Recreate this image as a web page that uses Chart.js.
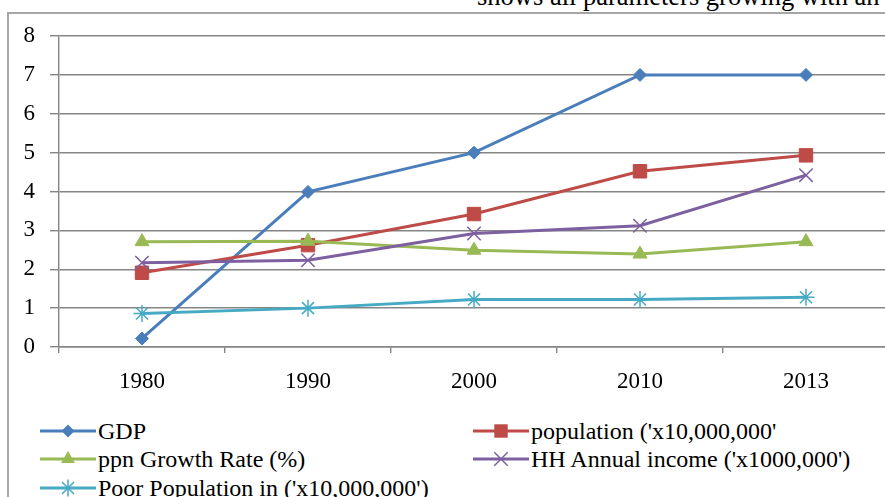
<!DOCTYPE html>
<html>
<head>
<meta charset="utf-8">
<script src="https://cdn.jsdelivr.net/npm/chart.js@4.4.1/dist/chart.umd.min.js"></script>
<style>
  html, body { margin: 0; padding: 0; width: 885px; height: 497px; overflow: hidden; background: #fff; }
  #caption { position: absolute; left: 477px; top: -16px; font: 26.5px/24px "Liberation Serif", "Times New Roman", serif; white-space: nowrap; color: #000; }
  #frame { position: absolute; left: 7px; top: 12px; width: 930px; height: 540px; border: 2px solid #a6a6a6; box-sizing: border-box; }
  #chart { position: absolute; left: 0; top: 0; }
  .item { position: absolute; height: 28px; display: flex; align-items: center; font: 24px/28px "Liberation Serif", "Times New Roman", serif; color: #000; white-space: nowrap; }
  .item canvas { margin-right: 2px; }
</style>
</head>
<body>
<div id="caption">shows all parameters growing with an</div>
<div id="frame"></div>
<canvas id="chart" width="900" height="400"></canvas>
<div id="legend"></div>
<script>
// Years on the category axis
const years = ['1980', '1990', '2000', '2010', '2013'];

// Series values
const gdp            = [0.22, 3.99, 5.00, 7.00, 7.00];
const population     = [1.91, 2.62, 3.42, 4.52, 4.93];
const growthRate     = [2.71, 2.72, 2.49, 2.39, 2.71];
const hhIncome       = [2.17, 2.23, 2.92, 3.12, 4.42];
const poorPopulation = [0.86, 1.00, 1.22, 1.22, 1.28];

// Value axis ticks
const yTicks = [0, 1, 2, 3, 4, 5, 6, 7, 8];

// Series names
const seriesNames = [
  'GDP',
  "population ('x10,000,000'",
  'ppn Growth Rate (%)',
  "HH Annual income ('x1000,000')",
  "Poor Population in ('x10,000,000')"
];

const seriesValues = [gdp, population, growthRate, hhIncome, poorPopulation];

// Look of each series: colour and marker
const seriesStyles = [
  { color: '#4a7ebb', marker: 'rectRot',  radius: 6.5, markerLine: 1 },
  { color: '#be4b48', marker: 'rect',     radius: 9.5, markerLine: 1 },
  { color: '#98b954', marker: 'triangle', radius: 8,   markerLine: 1 },
  { color: '#7d60a0', marker: 'crossRot', radius: 9.5, markerLine: 1.5 },
  { color: '#46aac5', marker: 'star',     radius: 8.5, markerLine: 1.5 }
];

// Legend placement (two columns, Excel style)
const legendSlots = [
  { left: 40,  top: 417 },
  { left: 473, top: 417 },
  { left: 40,  top: 445 },
  { left: 473, top: 445 },
  { left: 40,  top: 474 }
];

const gridColor = '#858585';
const tickFont = { family: "'Liberation Serif', 'Times New Roman', serif", size: 23 };

const datasets = seriesNames.map((name, i) => {
  const s = seriesStyles[i];
  return {
    label: name,
    data: seriesValues[i],
    borderColor: s.color,
    backgroundColor: s.color,
    borderWidth: 3,
    tension: 0,
    pointStyle: s.marker,
    pointRadius: s.radius,
    pointHoverRadius: s.radius,
    pointBackgroundColor: s.color,
    pointBorderColor: s.color,
    pointBorderWidth: s.markerLine,
    order: seriesNames.length - i
  };
});

new Chart(document.getElementById('chart'), {
  type: 'line',
  data: { labels: years, datasets },
  options: {
    responsive: false,
    animation: false,
    devicePixelRatio: 1,
    layout: { padding: { top: 36, right: 9.5, left: 0, bottom: 0 } },
    plugins: { legend: { display: false }, tooltip: { enabled: false } },
    scales: {
      x: {
        offset: true,
        afterFit(scale) { scale.height = 53; },
        grid: { offset: true, drawOnChartArea: false, drawTicks: true, tickLength: 6, color: gridColor, lineWidth: 1.4 },
        border: { display: true, color: gridColor, width: 1.4 },
        ticks: { color: '#000', font: tickFont, padding: 15, maxRotation: 0, autoSkip: false }
      },
      y: {
        min: 0,
        max: 8,
        afterFit(scale) { scale.width = 59; },
        afterBuildTicks(scale) { scale.ticks = yTicks.map(v => ({ value: v })); },
        grid: { color: gridColor, lineWidth: 1.4, tickLength: 9, drawTicks: true },
        border: { display: true, color: gridColor, width: 1.4 },
        ticks: { color: '#000', font: tickFont, padding: 15 }
      }
    }
  }
});

// Legend: a short line with the series marker, then the series name
function drawMarker(ctx, style, x, y) {
  const r = style.radius;
  ctx.save();
  ctx.fillStyle = style.color;
  ctx.strokeStyle = style.color;
  ctx.lineWidth = style.markerLine;
  ctx.beginPath();
  if (style.marker === 'rectRot') {
    ctx.moveTo(x - r, y); ctx.lineTo(x, y - r); ctx.lineTo(x + r, y); ctx.lineTo(x, y + r); ctx.closePath(); ctx.fill();
  } else if (style.marker === 'rect') {
    const h = r * Math.SQRT1_2;
    ctx.rect(x - h, y - h, 2 * h, 2 * h); ctx.fill();
  } else if (style.marker === 'triangle') {
    ctx.moveTo(x, y - r);
    ctx.lineTo(x + r * Math.sin(2 * Math.PI / 3), y - r * Math.cos(2 * Math.PI / 3));
    ctx.lineTo(x + r * Math.sin(4 * Math.PI / 3), y - r * Math.cos(4 * Math.PI / 3));
    ctx.closePath(); ctx.fill();
  } else {
    const d = r * Math.SQRT1_2;
    ctx.moveTo(x - d, y - d); ctx.lineTo(x + d, y + d);
    ctx.moveTo(x - d, y + d); ctx.lineTo(x + d, y - d);
    if (style.marker === 'star') { ctx.moveTo(x, y - r); ctx.lineTo(x, y + r); }
    ctx.stroke();
  }
  ctx.restore();
}

const legend = document.getElementById('legend');
seriesNames.forEach((name, i) => {
  const s = seriesStyles[i];
  const item = document.createElement('div');
  item.className = 'item';
  item.style.left = legendSlots[i].left + 'px';
  item.style.top = legendSlots[i].top + 'px';
  const sw = document.createElement('canvas');
  sw.width = 56; sw.height = 24;
  const c = sw.getContext('2d');
  c.strokeStyle = s.color; c.lineWidth = 3;
  c.beginPath(); c.moveTo(0, 12); c.lineTo(56, 12); c.stroke();
  drawMarker(c, s, 28, 12);
  const label = document.createElement('span');
  label.textContent = name;
  item.appendChild(sw);
  item.appendChild(label);
  legend.appendChild(item);
});
</script>
</body>
</html>
